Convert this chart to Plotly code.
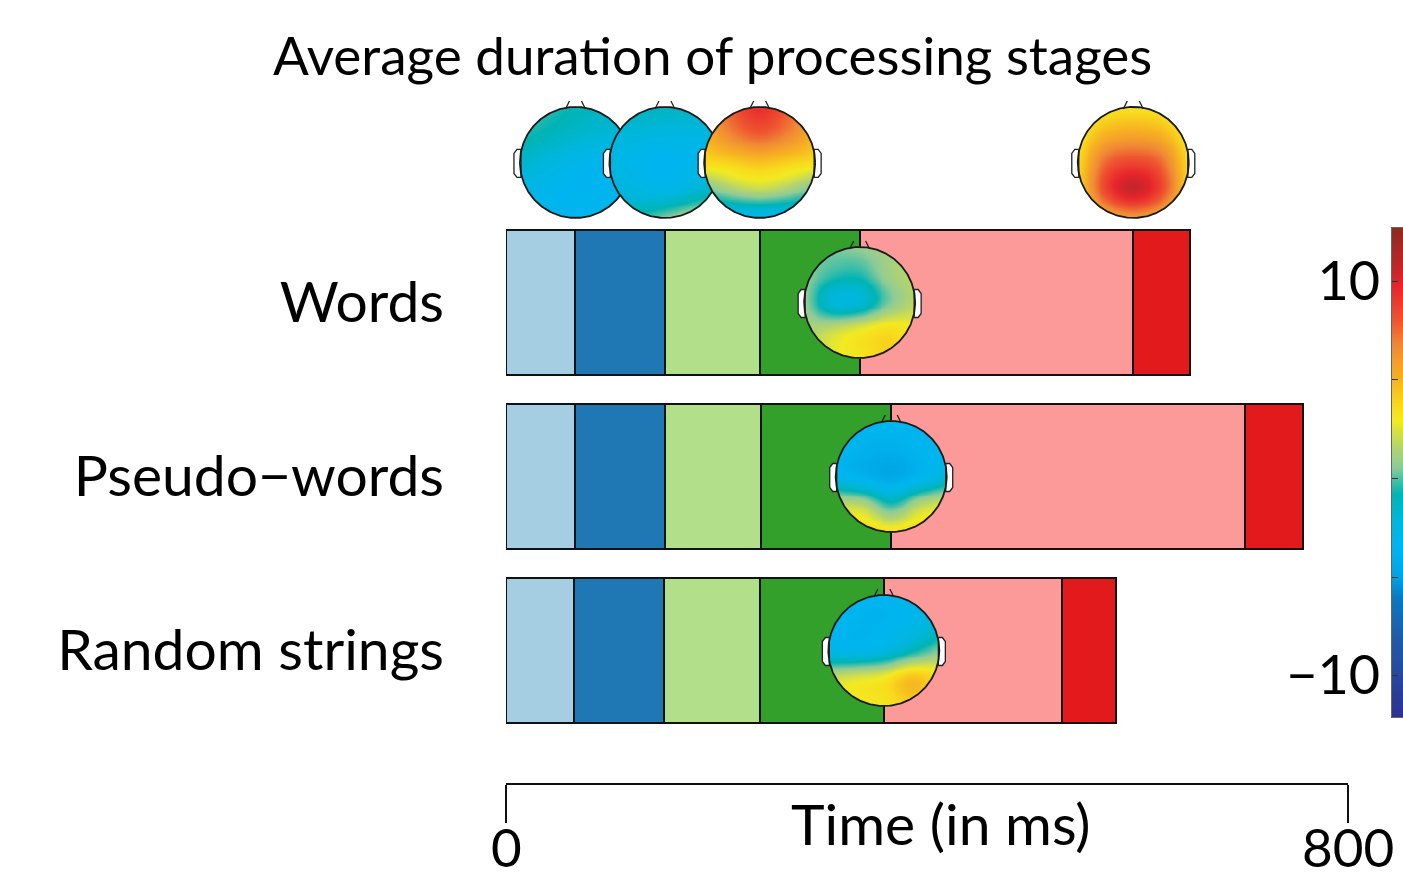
import numpy as np
import plotly.graph_objects as go

# ---------------- data ----------------
conditions = ["Words", "Pseudo\u2212words", "Random strings"]
stage_colors = ["#a6cee3", "#1f78b4", "#b2df8a", "#33a02c", "#fb9a99", "#e31a1c"]

# duration of each of the six processing stages (ms)
words_dur = [66, 85, 90, 95, 260, 54]
pseudo_dur = [66, 85, 91, 124, 336, 55]
random_dur = [65, 85, 91, 118, 169, 52]
durations = [words_dur, pseudo_dur, random_dur]

time_ticks = [0, 800]
time_labels = ["0", "800"]

# scalp topographies, 5x5 grid (rows front->back, columns left->right), in microvolts
topo_words_s1 = [[0.2, -0.3, -0.8, -1.2, -1.3],
                 [-0.5, -1.0, -1.6, -2.0, -2.0],
                 [-1.5, -2.3, -3.0, -3.3, -3.0],
                 [-2.5, -3.2, -3.6, -3.5, -3.0],
                 [-2.5, -3.2, -3.5, -3.3, -2.8]]
topo_words_s2 = [[-1.2, -1.0, -1.0, -1.2, -1.5],
                 [-2.0, -2.3, -2.5, -2.5, -2.5],
                 [-2.5, -3.2, -3.5, -3.3, -3.0],
                 [-2.0, -2.5, -2.8, -2.0, -1.0],
                 [-1.0, -0.5, 0.5, 1.5, 2.2]]
topo_words_s3 = [[6.0, 8.0, 9.5, 8.0, 6.0],
                 [5.0, 6.8, 7.8, 6.8, 5.0],
                 [3.5, 4.0, 4.5, 4.0, 3.5],
                 [0.0, 1.2, 1.8, 1.2, 0.0],
                 [-3.0, -3.5, -3.5, -3.5, -3.0]]
topo_words_s5 = [[2.5, 3.0, 3.2, 3.0, 2.5],
                 [3.0, 5.0, 5.5, 5.0, 3.0],
                 [3.5, 7.5, 8.5, 7.5, 3.5],
                 [3.5, 8.5, 10.5, 8.5, 3.5],
                 [2.5, 5.0, 6.0, 5.0, 2.5]]
topo_words_s4 = [[0.5, 0.5, 0.8, 1.2, 1.5],
                 [0.8, -0.3, -0.5, 1.0, 1.8],
                 [1.0, -2.0, -2.0, 0.3, 1.8],
                 [1.2, 2.0, 2.8, 3.5, 3.0],
                 [1.5, 2.8, 3.2, 4.0, 3.0]]
topo_pseudo_s4 = [[-3.0, -3.3, -3.3, -3.3, -3.0],
                  [-3.3, -3.8, -4.0, -3.5, -3.0],
                  [-3.0, -3.8, -4.5, -3.5, -2.0],
                  [2.0, 1.5, -0.5, 1.5, 2.5],
                  [3.5, 4.0, 3.5, 4.0, 3.5]]
topo_random_s4 = [[-3.0, -3.3, -3.5, -3.3, -3.0],
                  [-3.3, -3.6, -3.6, -3.0, -2.0],
                  [-2.8, -3.0, -2.5, -1.0, 0.5],
                  [2.0, 2.5, 3.0, 4.5, 3.5],
                  [2.8, 3.0, 3.2, 4.0, 3.2]]

cmin, cmax = -12.1, 12.7
cbar_ticks = [-10, -5, 0, 5, 10]
cbar_labels = ["\u221210", "", "", "", "10"]

# custom jet-like colour map (value, colour)
cmap_stops = [(-12.1, "#2e3192"), (-8.1, "#1f5ba8"), (-6.1, "#0a78bf"), (-5.0, "#00a3e3"),
              (-3.5, "#00b5ef"), (-2.2, "#00b6dc"), (-0.8, "#00b4b4"), (0.6, "#8ecb97"),
              (1.6, "#b3d46e"), (2.9, "#f1ea22"), (3.6, "#f8dc1c"), (5.0, "#f7b221"),
              (6.7, "#f08a35"), (8.0, "#ee5530"), (9.7, "#e8252b"), (10.6, "#c4262b"),
              (12.7, "#8b2a1e")]

# ---------------- layout geometry ----------------
FIG_W, FIG_H = 1403, 879
M_L, M_R, M_T, M_B = 506, 0, 0, 96
PLOT_W = FIG_W - M_L - M_R
PLOT_H = FIG_H - M_T - M_B
AXIS_PX = 842                      # length of the 0..800 ms axis
X_RANGE = [0, 800]
Y_RANGE = [-0.7615, 3.7385]
ROW_POS = [2, 1, 0]                # Words on top
BAR_WIDTH = 0.833
HEAD_ROW_Y = 2.805                 # row of the topographies above the bars
HEAD_R_PX = 55.5
FONT = "Lato"

px_per_ms = AXIS_PX / (X_RANGE[1] - X_RANGE[0])
px_per_row = PLOT_H / (Y_RANGE[1] - Y_RANGE[0])
x_dom = [0, AXIS_PX / PLOT_W]


def paper_x(px):
    return (px - M_L) / PLOT_W


def paper_y(px):
    return (FIG_H - M_B - px) / PLOT_H


colorscale = [[(v - cmin) / (cmax - cmin), c] for v, c in cmap_stops]

fig = go.Figure()

# ---------------- stacked stage bars ----------------
for s in range(6):
    xs = [d[s] for d in durations]
    fig.add_trace(go.Bar(
        y=ROW_POS, x=xs, orientation="h", width=BAR_WIDTH,
        marker=dict(color=stage_colors[s], line=dict(color="#111111", width=2)),
        name=f"stage {s + 1}", showlegend=False, hoverinfo="skip"))


# ---------------- scalp maps ----------------
def catmull_rom(t):
    return np.array([(-t ** 3 + 2 * t ** 2 - t) / 2,
                     (3 * t ** 3 - 5 * t ** 2 + 2) / 2,
                     (-3 * t ** 3 + 4 * t ** 2 + t) / 2,
                     (t ** 3 - t ** 2) / 2])


def resample_rows(g, n):
    m = g.shape[0]
    padded = np.concatenate([2 * g[:1] - g[1:2], g, 2 * g[-1:] - g[-2:-1]], axis=0)
    out = np.empty((n,) + g.shape[1:])
    for k, p in enumerate(np.linspace(0, m - 1, n)):
        i = min(int(np.floor(p)), m - 2)
        out[k] = catmull_rom(p - i) @ padded[i:i + 4]
    return out


def smooth_topo(grid, n=121):
    g = np.asarray(grid, dtype=float)
    return resample_rows(resample_rows(g, n).T, n).T


cum = [np.cumsum(d) for d in durations]
heads = [
    (cum[0][0], HEAD_ROW_Y, topo_words_s1),
    (cum[0][1], HEAD_ROW_Y, topo_words_s2),
    (cum[0][2], HEAD_ROW_Y, topo_words_s3),
    (cum[0][4], HEAD_ROW_Y, topo_words_s5),
    (cum[0][3], ROW_POS[0], topo_words_s4),
    (cum[1][3], ROW_POS[1], topo_pseudo_s4),
    (cum[2][3], ROW_POS[2], topo_random_s4),
]

rx = HEAD_R_PX / px_per_ms
ry = HEAD_R_PX / px_per_row
N = 121
u = np.linspace(-1, 1, N)
UU, VV = np.meshgrid(u, u)
outside = UU ** 2 + VV ** 2 > 1.0
theta = np.linspace(0, 2 * np.pi, 241)

layout_axes = {}
for k, (cx, cy, topo) in enumerate(heads):
    ax = k + 2
    xa, ya = f"x{ax}", f"y{ax}"
    z = smooth_topo(topo, N)[::-1]          # rows now back->front (bottom->top)
    z[outside] = np.nan
    fig.add_trace(go.Heatmap(
        x=cx + rx * u, y=cy + ry * u, z=z, coloraxis="coloraxis",
        zsmooth=False, connectgaps=False, hoverinfo="skip", xaxis=xa, yaxis=ya))

    # ears (white rounded tabs on both sides)
    for side in (-1, 1):
        ex = np.array([0, -4, -7, -7, -4, 0, 0]) - HEAD_R_PX + 1.0
        ey = np.array([13, 13, 9, -11, -15, -15, 13])
        fig.add_trace(go.Scatter(
            x=cx + side * ex / px_per_ms, y=cy + ey / px_per_row,
            mode="lines", fill="toself", fillcolor="white",
            line=dict(color="#222222", width=1.3), hoverinfo="skip",
            showlegend=False, xaxis=xa, yaxis=ya))
    # nose
    for side in (-1, 1):
        nx = np.array([10, 6]) * side
        ny = np.array([HEAD_R_PX - 2, HEAD_R_PX + 6])
        fig.add_trace(go.Scatter(
            x=cx + nx / px_per_ms, y=cy + ny / px_per_row, mode="lines",
            line=dict(color="#222222", width=1.3), hoverinfo="skip",
            showlegend=False, xaxis=xa, yaxis=ya))
    # head outline
    fig.add_trace(go.Scatter(
        x=cx + rx * np.cos(theta), y=cy + ry * np.sin(theta), mode="lines",
        line=dict(color="#1a1a1a", width=1.8), hoverinfo="skip",
        showlegend=False, xaxis=xa, yaxis=ya))

    layout_axes[f"xaxis{ax}"] = dict(overlaying="x", range=X_RANGE, domain=x_dom,
                                     visible=False, fixedrange=True, automargin=False)
    layout_axes[f"yaxis{ax}"] = dict(overlaying="y", range=Y_RANGE, visible=False,
                                     fixedrange=True, automargin=False)

# ---------------- colour bar ----------------
cb_ax = len(heads) + 2
cb_vals = np.linspace(cmin, cmax, 256)
fig.add_trace(go.Heatmap(
    x=[0], y=cb_vals, z=cb_vals.reshape(-1, 1), coloraxis="coloraxis",
    hoverinfo="skip", xaxis=f"x{cb_ax}", yaxis=f"y{cb_ax}"))
layout_axes[f"xaxis{cb_ax}"] = dict(
    domain=[paper_x(1392), 1.0], range=[-0.5, 0.5], anchor=f"y{cb_ax}",
    showticklabels=False, ticks="", showgrid=False, zeroline=False,
    showline=True, mirror=True, linecolor="#666666", linewidth=1, fixedrange=True,
    automargin=False)
layout_axes[f"yaxis{cb_ax}"] = dict(
    domain=[paper_y(717), paper_y(228)], range=[cmin, cmax], anchor=f"x{cb_ax}",
    side="left", tickvals=cbar_ticks, ticktext=cbar_labels, ticks="inside",
    ticklen=6, tickwidth=1.2, tickcolor="#333333", ticklabelstandoff=0,
    tickfont=dict(family=FONT, size=54, color="black"),
    showgrid=False, zeroline=False, showline=True, mirror=True,
    linecolor="#666666", linewidth=1, fixedrange=True, automargin=False)

# ---------------- text ----------------
annotations = [
    dict(text="Average duration of processing stages", x=paper_x(712), y=paper_y(54),
         xref="paper", yref="paper", xanchor="center", yanchor="middle",
         showarrow=False, font=dict(family=FONT, size=53, color="black")),
    dict(text="Time (in ms)", x=paper_x(941), y=paper_y(823),
         xref="paper", yref="paper", xanchor="center", yanchor="middle",
         showarrow=False, font=dict(family=FONT, size=57, color="black")),
]
# time axis tick labels, placed under the end ticks
for tv, tl in zip(time_ticks, time_labels):
    annotations.append(dict(
        text=tl, x=tv, xref="x", y=paper_y(846), yref="paper",
        xanchor="center", yanchor="middle", showarrow=False,
        font=dict(family=FONT, size=53, color="black")))

fig.update_layout(
    width=FIG_W, height=FIG_H,
    margin=dict(l=M_L, r=M_R, t=M_T, b=M_B, pad=0, autoexpand=False),
    paper_bgcolor="white", plot_bgcolor="rgba(0,0,0,0)",
    barmode="stack", bargap=0, showlegend=False,
    coloraxis=dict(colorscale=colorscale, cmin=cmin, cmax=cmax, showscale=False),
    xaxis=dict(domain=x_dom, range=X_RANGE, tickvals=time_ticks, showticklabels=False,
               ticks="outside", ticklen=38, tickwidth=2, tickcolor="#111111",
               showline=True, linecolor="#111111", linewidth=2, showgrid=False,
               zeroline=False, fixedrange=True, automargin=False),
    yaxis=dict(range=Y_RANGE, tickvals=ROW_POS, ticktext=conditions, ticks="",
               ticklabelstandoff=61, showline=False, showgrid=False, zeroline=False,
               fixedrange=True, automargin=False,
               tickfont=dict(family=FONT, size=57, color="black")),
    annotations=annotations,
    **layout_axes,
)

fig.write_html("out.html")
